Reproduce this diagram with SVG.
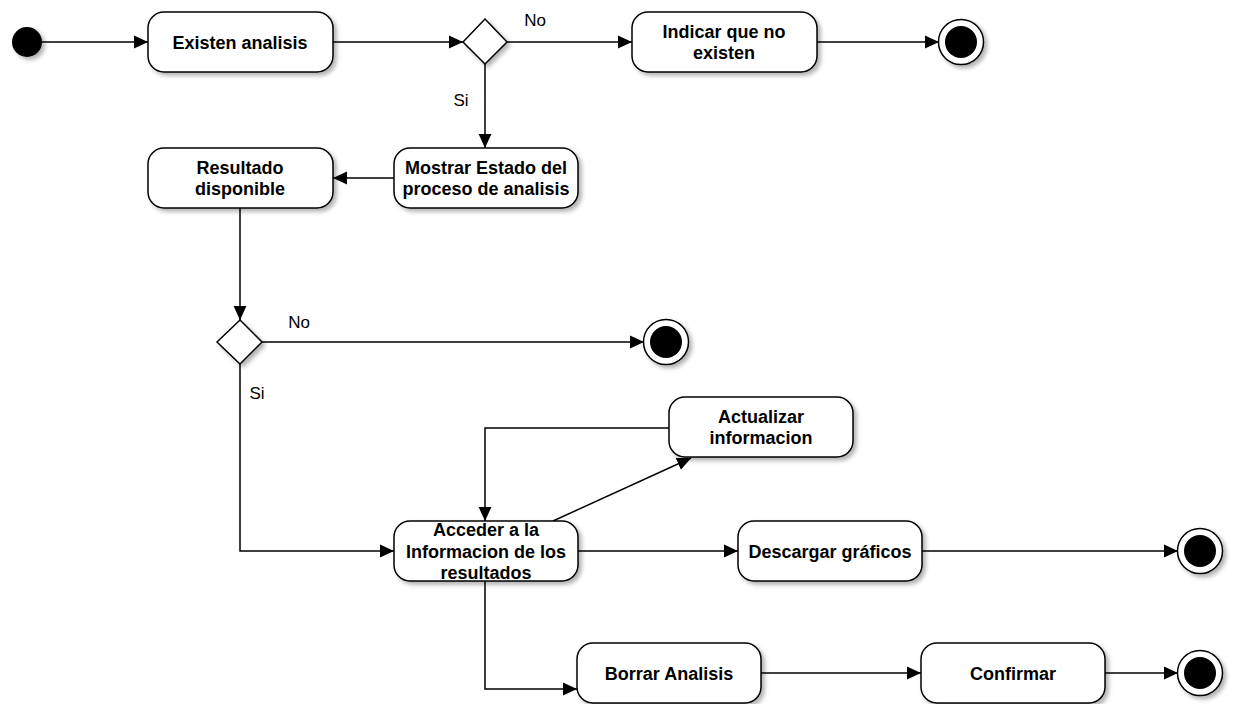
<svg xmlns="http://www.w3.org/2000/svg" width="1234" height="704" viewBox="0 0 1234 704">
  <style>
    .act { fill: #fff; stroke: #000; stroke-width: 1.5; filter: url(#shadow); }
    .dec { fill: #fff; stroke: #000; stroke-width: 1.5; filter: url(#shadow); }
    .ring { fill: #fff; stroke: #000; stroke-width: 1.5; filter: url(#shadow); }
    .dot { fill: #000; stroke: none; }
    .lbl { font-family: "Liberation Sans", Arial, Helvetica, sans-serif; font-size: 18px; font-weight: bold; fill: #000; text-anchor: middle; }
    .guard { font-family: "Liberation Sans", Arial, Helvetica, sans-serif; font-size: 17px; fill: #000; text-anchor: middle; }
    .edge { fill: none; stroke: #000; stroke-width: 1.5; marker-end: url(#arrow); }
  </style>
  <defs>
    <filter id="shadow" x="-20%" y="-20%" width="150%" height="160%">
      <feDropShadow dx="3" dy="3" stdDeviation="2" flood-color="#000" flood-opacity="0.3"/>
    </filter>
    <marker id="arrow" markerUnits="userSpaceOnUse" markerWidth="14" markerHeight="14" viewBox="0 0 12 12" refX="12" refY="6" orient="auto">
      <path d="M0,0.5 L12,6 L0,11.5 z" fill="#000"/>
    </marker>
  </defs>

  <rect width="1234" height="704" fill="#fff"/>

  <!-- connectors -->
  <g id="connectors">
    <path class="edge" d="M42,42 H148"/>
    <path class="edge" d="M333,42 H463"/>
    <path class="edge" d="M507,42 H632"/>
    <path class="edge" d="M817,42 H939"/>
    <path class="edge" d="M485,64 V148"/>
    <path class="edge" d="M394,178 H333"/>
    <path class="edge" d="M240,208 V320"/>
    <path class="edge" d="M262,342 H644"/>
    <path class="edge" d="M240,364 V551 H394"/>
    <path class="edge" d="M578,551 H738"/>
    <path class="edge" d="M922,551 H1178"/>
    <path class="edge" d="M669,428 H485 V521"/>
    <path class="edge" d="M553,521 L691,458"/>
    <path class="edge" d="M485,581 V689 H577"/>
    <path class="edge" d="M761,673 H921"/>
    <path class="edge" d="M1105,673 H1178"/>
    <text class="guard" x="535" y="26">No</text>
    <text class="guard" x="461" y="106">Si</text>
    <text class="guard" x="299" y="328">No</text>
    <text class="guard" x="257" y="399">Si</text>
  </g>

  <!-- start -->
  <g id="start">
    <circle cx="27" cy="42" r="15" fill="#000" filter="url(#shadow)"/>
  </g>

  <g id="existen">
    <rect class="act" x="148" y="12" width="185" height="60" rx="16"/>
    <text class="lbl" x="240" y="48.5">Existen analisis</text>
  </g>

  <g id="decision1">
    <polygon class="dec" points="463,42 485,19 507,42 485,64"/>
  </g>

  <g id="indicar">
    <rect class="act" x="632" y="12" width="185" height="60" rx="16"/>
    <text class="lbl" x="724" y="37.5">Indicar que no</text>
    <text class="lbl" x="724" y="59">existen</text>
  </g>

  <g id="end1">
    <circle class="ring" cx="961" cy="42" r="22.5"/>
    <circle class="dot" cx="961" cy="42" r="16"/>
  </g>

  <g id="mostrar">
    <rect class="act" x="394" y="148" width="184" height="60" rx="16"/>
    <text class="lbl" x="486" y="173.5">Mostrar Estado del</text>
    <text class="lbl" x="486" y="195">proceso de analisis</text>
  </g>

  <g id="resultado">
    <rect class="act" x="148" y="148" width="185" height="60" rx="16"/>
    <text class="lbl" x="240" y="173.5">Resultado</text>
    <text class="lbl" x="240" y="195">disponible</text>
  </g>

  <g id="decision2">
    <polygon class="dec" points="217,342 240,320 262,342 240,364"/>
  </g>

  <g id="end2">
    <circle class="ring" cx="666" cy="342" r="22.5"/>
    <circle class="dot" cx="666" cy="342" r="16"/>
  </g>

  <g id="actualizar">
    <rect class="act" x="669" y="397" width="184" height="60" rx="16"/>
    <text class="lbl" x="761" y="422.5">Actualizar</text>
    <text class="lbl" x="761" y="444">informacion</text>
  </g>

  <g id="acceder">
    <rect class="act" x="394" y="521" width="184" height="60" rx="16"/>
    <text class="lbl" x="486" y="536">Acceder a la</text>
    <text class="lbl" x="486" y="557.5">Informacion de los</text>
    <text class="lbl" x="486" y="579">resultados</text>
  </g>

  <g id="descargar">
    <rect class="act" x="738" y="521" width="184" height="60" rx="16"/>
    <text class="lbl" x="830" y="557.5">Descargar gráficos</text>
  </g>

  <g id="end3">
    <circle class="ring" cx="1200" cy="551" r="22.5"/>
    <circle class="dot" cx="1200" cy="551" r="16"/>
  </g>

  <g id="borrar">
    <rect class="act" x="577" y="643" width="184" height="60" rx="16"/>
    <text class="lbl" x="669" y="679.5">Borrar Analisis</text>
  </g>

  <g id="confirmar">
    <rect class="act" x="921" y="643" width="184" height="60" rx="16"/>
    <text class="lbl" x="1013" y="679.5">Confirmar</text>
  </g>

  <g id="end4">
    <circle class="ring" cx="1200" cy="673" r="22.5"/>
    <circle class="dot" cx="1200" cy="673" r="16"/>
  </g>
</svg>
